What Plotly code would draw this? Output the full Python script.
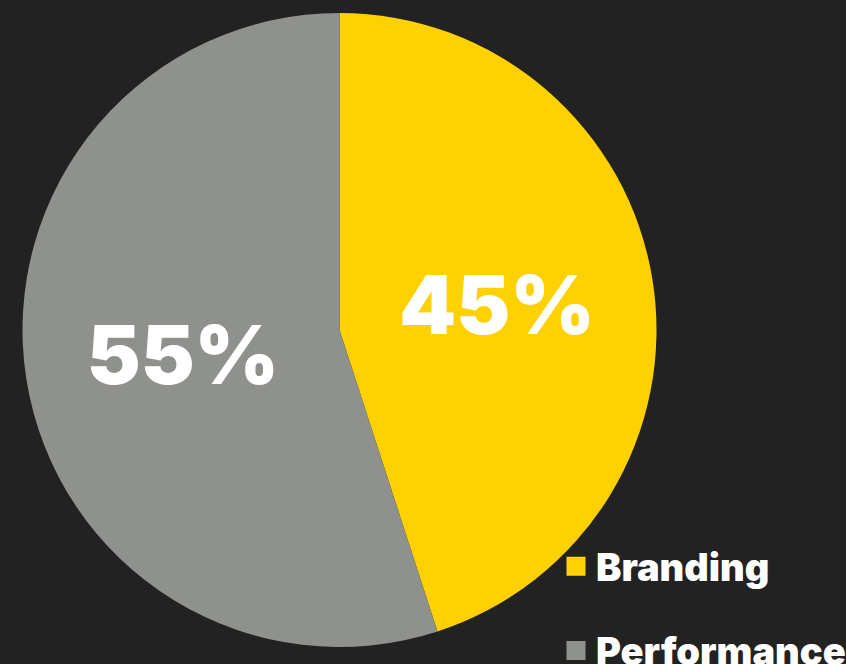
import plotly.graph_objects as go

labels = ["Branding", "Performance"]
values = [45, 55]
colors = ["#FFD100", "#8F918D"]

W, H = 846, 664
BG = "#222222"

fig = go.Figure()
fig.add_trace(go.Pie(
    labels=labels,
    values=values,
    marker=dict(colors=colors, line=dict(width=0)),
    sort=False,
    direction="clockwise",
    rotation=0,
    texttemplate="%{percent:.0%}",
    textposition="inside",
    insidetextorientation="horizontal",
    textfont=dict(family="Inter", size=81, color="white", weight=900),
    domain=dict(x=[22 / W, 657 / W], y=[1 - 647 / H, 1 - 13 / H]),
    hoverinfo="label+percent",
    showlegend=False,
))

# legend entries (one per slice, coloured like the slices)
for lab, col in zip(labels, colors):
    fig.add_trace(go.Scatter(
        x=[None], y=[None], mode="markers", name=lab, legendgroup=lab,
        marker=dict(symbol="square", size=16, color=col, line=dict(color=col, width=3)),
        hoverinfo="skip",
    ))

fig.update_layout(
    width=W, height=H,
    paper_bgcolor=BG,
    plot_bgcolor=BG,
    margin=dict(l=0, r=0, t=0, b=0, autoexpand=False),
    showlegend=True,
    xaxis=dict(visible=False),
    yaxis=dict(visible=False),
    legend=dict(
        x=556 / W, y=1 - 535 / H, xanchor="left", yanchor="top",
        font=dict(family="Inter", size=38, color="white", weight=900),
        bgcolor="rgba(0,0,0,0)",
        itemwidth=30,
        traceorder="grouped",
        tracegroupgap=32,
        itemsizing="trace",
    ),
)

fig.write_html(
    "out.html",
    config={"displayModeBar": False},
    post_script="document.body.style.margin='0';document.body.style.background='#222222';",
)
